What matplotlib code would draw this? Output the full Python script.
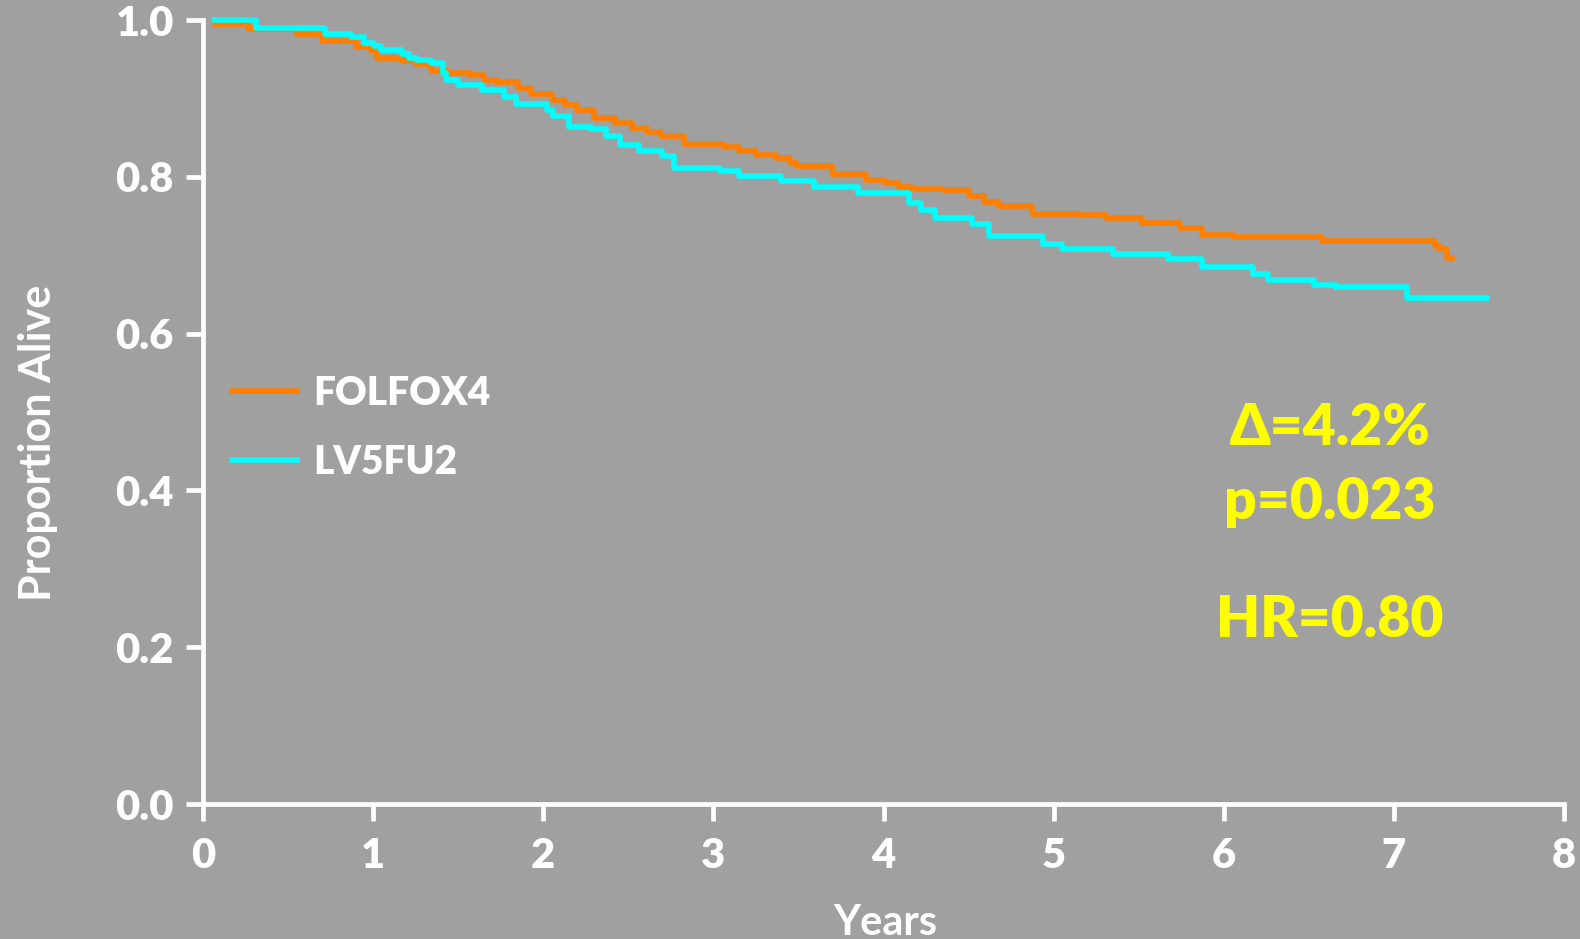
import matplotlib
matplotlib.use("Agg")
import matplotlib.pyplot as plt

# FOLFOX4 Kaplan-Meier steps (time in years, survival after step)
t_folfox = [0.07, 0.265, 0.55, 0.70, 0.90, 0.985, 1.025, 1.17, 1.25, 1.34, 1.44, 1.57, 1.65, 1.73,
            1.85, 1.93, 2.05, 2.13, 2.20, 2.30, 2.42, 2.52, 2.61, 2.69, 2.83, 3.06, 3.15, 3.25,
            3.37, 3.45, 3.49, 3.70, 3.90, 4.01, 4.09, 4.17, 4.35, 4.50, 4.59, 4.68, 4.87, 5.16,
            5.31, 5.52, 5.74, 5.87, 6.06, 6.58, 7.24, 7.27, 7.31, 7.34]
s_folfox = [0.995, 0.988, 0.982, 0.973, 0.966, 0.960, 0.952, 0.948, 0.944, 0.935, 0.933, 0.930, 0.923, 0.921,
            0.913, 0.906, 0.898, 0.892, 0.885, 0.875, 0.868, 0.862, 0.857, 0.852, 0.842, 0.838, 0.833, 0.828,
            0.824, 0.818, 0.814, 0.804, 0.796, 0.792, 0.787, 0.785, 0.783, 0.775, 0.768, 0.763, 0.753, 0.751,
            0.747, 0.741, 0.735, 0.726, 0.723, 0.7185, 0.712, 0.7075, 0.697, 0.697]

# LV5FU2 Kaplan-Meier steps
t_lv5 = [0.07, 0.31, 0.72, 0.87, 0.946, 1.005, 1.046, 1.17, 1.21, 1.26, 1.34, 1.41, 1.43, 1.50,
         1.64, 1.77, 1.84, 2.02, 2.06, 2.15, 2.28, 2.37, 2.45, 2.56, 2.70, 2.77, 3.04, 3.15,
         3.40, 3.59, 3.85, 4.15, 4.22, 4.30, 4.52, 4.62, 4.94, 5.05, 5.35, 5.67, 5.87, 6.17,
         6.26, 6.53, 6.66, 7.08, 7.55]
s_lv5 = [1.000, 0.990, 0.982, 0.978, 0.971, 0.967, 0.962, 0.956, 0.952, 0.949, 0.9455, 0.932, 0.923, 0.917,
         0.911, 0.902, 0.893, 0.885, 0.877, 0.863, 0.861, 0.852, 0.840, 0.833, 0.826, 0.811, 0.807, 0.801,
         0.795, 0.787, 0.779, 0.766, 0.758, 0.748, 0.740, 0.724, 0.714, 0.708, 0.7015, 0.695, 0.685, 0.676,
         0.669, 0.662, 0.659, 0.646, 0.646]

series_labels = ["FOLFOX4", "LV5FU2"]
x_ticks = [0, 1, 2, 3, 4, 5, 6, 7, 8]
y_ticks = [0.0, 0.2, 0.4, 0.6, 0.8, 1.0]
stats_lines = ["Δ=4.2%", "p=0.023", "HR=0.80"]

BG = "#A0A0A0"
ORANGE = "#FF7F00"
CYAN = "#00FFFF"
YELLOW = "#FFFF00"
FONT = ["Lato", "DejaVu Sans"]

plt.rcParams["font.family"] = FONT

W, H = 1580, 939
fig = plt.figure(figsize=(W / 100, H / 100), dpi=100, facecolor=BG)
ax = fig.add_axes([203 / W, (H - 804) / H, (1564 - 203) / W, (804 - 20) / H])
ax.set_facecolor(BG)

ax.step(t_folfox, s_folfox, where="post", color=ORANGE, lw=4.0, label=series_labels[0],
        clip_on=False, zorder=3)
ax.step(t_lv5, s_lv5, where="post", color=CYAN, lw=4.0, label=series_labels[1],
        clip_on=False, zorder=4)

ax.set_xlim(0, 8)
ax.set_ylim(0, 1.0)
ax.set_xticks(x_ticks)
ax.set_xticklabels([str(v) for v in x_ticks])
ax.set_yticks(y_ticks)
ax.set_yticklabels([f"{v:.1f}" for v in y_ticks])

for s in ["top", "right"]:
    ax.spines[s].set_visible(False)
for s in ["left", "bottom"]:
    ax.spines[s].set_color("white")
    ax.spines[s].set_linewidth(3.4)

ax.tick_params(axis="both", colors="white", width=3.4, length=12, direction="out")
ax.tick_params(axis="x", pad=12)
ax.tick_params(axis="y", pad=9)
for lab in ax.get_xticklabels() + ax.get_yticklabels():
    lab.set_fontsize(30)
    lab.set_fontweight("heavy")
    lab.set_color("white")

fig.text(38 / W, 1 - 443 / H, "Proportion Alive", rotation=90, ha="center", va="center",
         fontsize=31, fontweight="bold", color="white")
fig.text(885 / W, 4 / H, "Years", ha="center", va="baseline",
         fontsize=30, fontweight="bold", color="white")

leg = ax.legend(loc="upper left", bbox_to_anchor=(232 / W, 1 - 375 / H),
                bbox_transform=fig.transFigure, frameon=False, fontsize=28,
                handlelength=1.67, handletextpad=0.42, labelspacing=0.82, borderpad=0,
                borderaxespad=0)
for txt in leg.get_texts():
    txt.set_color("white")
    txt.set_fontweight("heavy")

ypos = [428, 502, 620]
for line, yp in zip(stats_lines, ypos):
    fig.text(1330 / W, 1 - yp / H, line, ha="center", va="center",
             fontsize=41, fontweight="heavy", color=YELLOW)

fig.savefig("out.png", dpi=100, facecolor=BG)
